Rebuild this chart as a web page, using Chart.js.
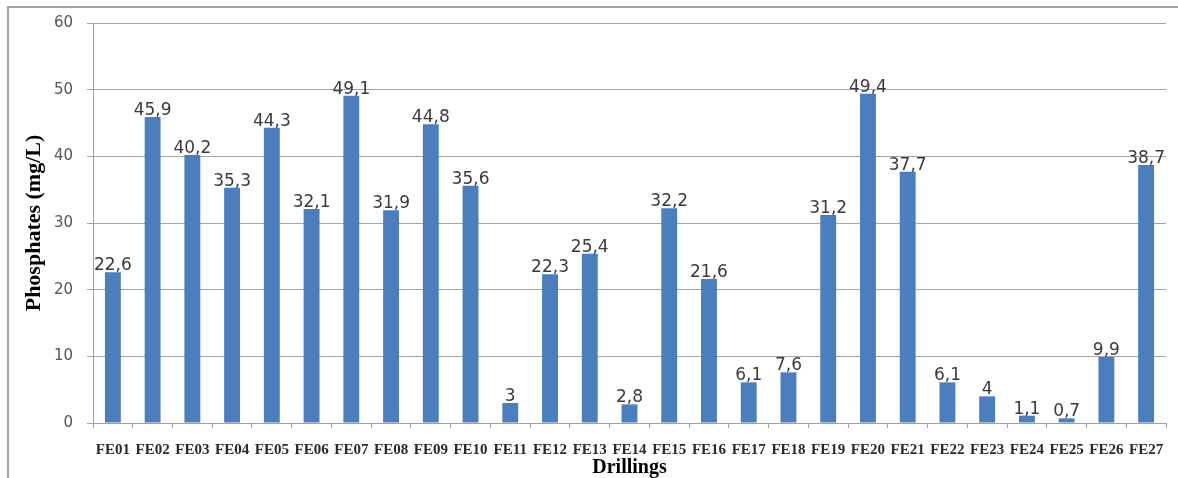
<!DOCTYPE html>
<html>
<head>
<meta charset="utf-8">
<script src="https://cdn.jsdelivr.net/npm/chart.js@4/dist/chart.umd.min.js"></script>
<style>
  html, body { margin: 0; padding: 0; background: #fff; }
  #wrap { width: 1178px; height: 478px; }
</style>
</head>
<body>
<div id="wrap"><canvas id="chart" width="1178" height="478"></canvas></div>
<script>
const drillings = ['FE01', 'FE02', 'FE03', 'FE04', 'FE05', 'FE06', 'FE07', 'FE08', 'FE09', 'FE10',
  'FE11', 'FE12', 'FE13', 'FE14', 'FE15', 'FE16', 'FE17', 'FE18', 'FE19', 'FE20',
  'FE21', 'FE22', 'FE23', 'FE24', 'FE25', 'FE26', 'FE27'];
const phosphates = [22.6, 45.9, 40.2, 35.3, 44.3, 32.1, 49.1, 31.9, 44.8, 35.6,
  3, 22.3, 25.4, 2.8, 32.2, 21.6, 6.1, 7.6, 31.2, 49.4,
  37.7, 6.1, 4, 1.1, 0.7, 9.9, 38.7];
const yTicks = [0, 10, 20, 30, 40, 50, 60];

// comma as decimal separator
const fmt = v => String(v).replace('.', ',');

// thin grey frame on the left and top of the figure
const framePlugin = {
  id: 'frame',
  beforeDraw(chart) {
    const ctx = chart.ctx;
    ctx.save();
    ctx.strokeStyle = '#a3a3a3';
    ctx.lineWidth = 2;
    ctx.beginPath();
    ctx.moveTo(8, 478);
    ctx.lineTo(8, 7);
    ctx.lineTo(1178, 7);
    ctx.stroke();
    ctx.restore();
  }
};

// value written just above each bar
const valueLabels = {
  id: 'valueLabels',
  afterDatasetsDraw(chart) {
    const ctx = chart.ctx;
    const meta = chart.getDatasetMeta(0);
    ctx.save();
    ctx.font = '17px "DejaVu Sans"';
    ctx.fillStyle = '#3a3a3a';
    ctx.textAlign = 'center';
    ctx.textBaseline = 'alphabetic';
    meta.data.forEach((bar, i) => {
      ctx.fillText(fmt(chart.data.datasets[0].data[i]), bar.x, bar.y - 2);
    });
    ctx.restore();
  }
};

new Chart(document.getElementById('chart'), {
  type: 'bar',
  data: {
    labels: drillings,
    datasets: [{
      data: phosphates,
      backgroundColor: '#4a7ebd',
      borderWidth: 0,
      categoryPercentage: 1,
      barPercentage: 0.4
    }]
  },
  options: {
    responsive: false,
    animation: false,
    layout: { padding: { left: 18, top: 23, right: 12, bottom: 0 } },
    plugins: {
      legend: { display: false },
      tooltip: { enabled: false }
    },
    scales: {
      x: {
        afterFit: s => { s.height = 55; },
        grid: {
          offset: true,
          drawOnChartArea: false,
          drawTicks: true,
          tickLength: 5,
          color: '#a0a0a0'
        },
        border: { color: '#a0a0a0', width: 1 },
        ticks: {
          autoSkip: false,
          maxRotation: 0,
          padding: 13,
          color: '#2a2a2a',
          font: { family: '"Liberation Serif"', size: 15, weight: 'bold' }
        },
        title: {
          display: true,
          text: 'Drillings',
          color: '#000',
          padding: 0,
          font: { family: '"Liberation Serif"', size: 20, weight: 'bold', lineHeight: 1 }
        }
      },
      y: {
        min: 0,
        max: 60,
        afterFit: s => { s.width = 75; },
        afterBuildTicks: s => { s.ticks = yTicks.map(v => ({ value: v })); },
        grid: {
          color: '#a6a6a6',
          lineWidth: 1,
          tickLength: 6
        },
        border: { color: '#a0a0a0', width: 1 },
        ticks: {
          padding: 14,
          color: '#555',
          font: { family: '"DejaVu Sans"', size: 15 }
        },
        title: {
          display: true,
          text: 'Phosphates (mg/L)',
          color: '#000',
          padding: { top: 3, bottom: 0 },
          font: { family: '"Liberation Serif"', size: 22, weight: 'bold' }
        }
      }
    }
  },
  plugins: [framePlugin, valueLabels]
});
</script>
</body>
</html>
